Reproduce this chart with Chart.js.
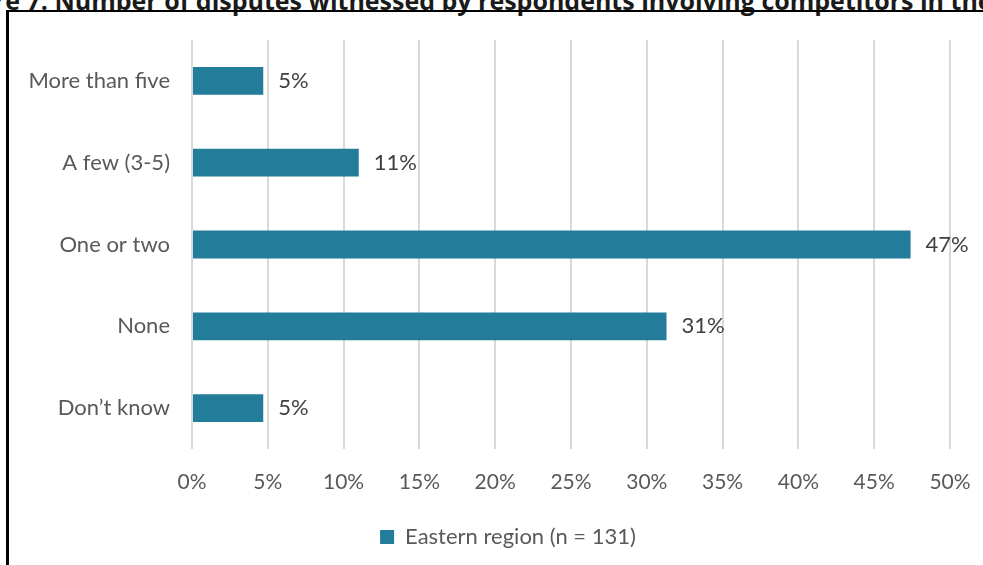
<!DOCTYPE html>
<html>
<head>
<meta charset="utf-8">
<script src="https://cdn.jsdelivr.net/npm/chart.js@4"></script>
<style>
  html, body { margin: 0; padding: 0; background: #fff; overflow: hidden; }
  #wrap { position: relative; width: 983px; height: 565px; }
  #title {
    position: absolute; left: -58px; top: -17px; white-space: nowrap;
    font: bold 25px "Open Sans", sans-serif; color: #1a1a1a;
  }
  #frame {
    position: absolute; left: 6px; top: 10px; width: 1000px; height: 600px;
    border-left: 3px solid #000; border-top: 2px solid #000;
  }
  #chart { position: absolute; left: 0; top: 0; }
</style>
</head>
<body>
<div id="wrap">
  <div id="title">Figure 7: Number of disputes witnessed by respondents involving competitors in the region</div>
  <div id="frame"></div>
  <canvas id="chart" width="983" height="565"></canvas>
</div>
<script>
const categories = ["More than five", "A few (3-5)", "One or two", "None", "Don\u2019t know"];
const shares = [4.7, 11.0, 47.4, 31.3, 4.7];
const shareLabels = ["5%", "11%", "47%", "31%", "5%"];
const seriesName = "Eastern region (n = 131)";
const xTicks = [0, 5, 10, 15, 20, 25, 30, 35, 40, 45, 50];

const barColor = "#237C99";
const textColor = "#595959";
const fontFamily = "Lato, sans-serif";

const valueLabels = {
    id: "valueLabels",
    afterDatasetsDraw(chart) {
        const ctx = chart.ctx;
        const meta = chart.getDatasetMeta(0);
        ctx.save();
        ctx.font = "22px " + fontFamily;
        ctx.fillStyle = "#404040";
        ctx.textBaseline = "middle";
        ctx.textAlign = "left";
        meta.data.forEach((bar, i) => {
            ctx.fillText(shareLabels[i], bar.x + 15, bar.y);
        });
        ctx.restore();
    }
};

// legend in the original is centred under the whole frame, not the canvas
const shiftLegend = {
    id: "shiftLegend",
    afterLayout(chart) {
        if (chart.legend) chart.legend.left += 66;
    }
};

const ctx = document.getElementById("chart").getContext("2d");
const chart = new Chart(ctx, {
    type: "bar",
    data: {
        labels: categories,
        datasets: [{
            label: seriesName,
            data: shares,
            backgroundColor: barColor,
            borderWidth: 0,
            barPercentage: 0.68,
            categoryPercentage: 0.5
        }]
    },
    options: {
        indexAxis: "y",
        responsive: false,
        animation: false,
        layout: {
            padding: { top: 40, right: 33, bottom: 7, left: 0 }
        },
        plugins: {
            legend: {
                position: "bottom",
                labels: {
                    boxWidth: 14,
                    boxHeight: 14,
                    padding: 10,
                    color: textColor,
                    font: { family: fontFamily, size: 22 }
                }
            },
            tooltip: { enabled: false }
        },
        scales: {
            x: {
                min: 0,
                max: 50,
                afterBuildTicks: (axis) => {
                    axis.ticks = xTicks.map(v => ({ value: v }));
                },
                afterFit: (axis) => {
                    axis.height = 67;
                    axis.paddingLeft = 0;
                    axis.paddingRight = 0;
                },
                grid: {
                    color: "#d9d9d9",
                    lineWidth: 2,
                    drawTicks: false
                },
                border: { display: false },
                ticks: {
                    padding: 21,
                    color: textColor,
                    font: { family: fontFamily, size: 21 },
                    callback: (v) => v + "%"
                }
            },
            y: {
                afterFit: (axis) => { axis.width = 192; },
                grid: { display: false, drawTicks: false },
                border: { display: false },
                ticks: {
                    padding: 22,
                    color: textColor,
                    font: { family: fontFamily, size: 22 }
                }
            }
        }
    },
    plugins: [valueLabels, shiftLegend]
});
</script>
</body>
</html>
